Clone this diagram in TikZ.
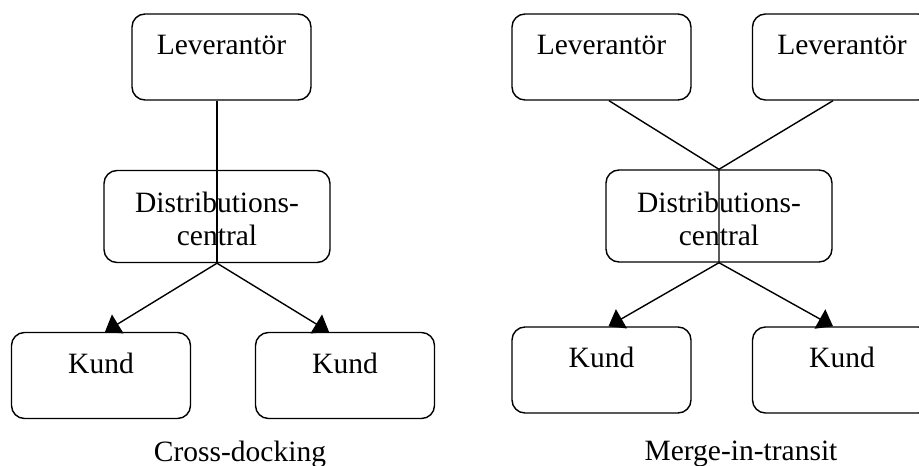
\documentclass[tikz,border=0pt]{standalone}
\usepackage{fontspec}
\setmainfont{Liberation Serif}
\usetikzlibrary{arrows.meta}

\tikzset{
  box/.style={draw, line width=1.4pt, rounded corners=13pt, inner sep=0pt,
              minimum width=179pt, minimum height=86pt},
  wide/.style={box, minimum width=226pt, minimum height=92pt},
  lbl/.style={anchor=base, inner sep=0pt, font=\fontsize{29.5}{33}\selectfont},
  link/.style={line width=1.4pt},
  flow/.style={link, -{Triangle[length=15pt,width=22pt]}}
}

\begin{document}
\begin{tikzpicture}[x=1pt,y=-1pt]
\useasboundingbox (0,0) rectangle (919,466);

% ---- Cross-docking ----
\node[box]  (lev) at (221.5,57) {};
\node[wide] (dc)  at (217,216.5) {};
\node[box]  (k1)  at (101,375.5) {};
\node[box]  (k2)  at (345,375.5) {};

\node[lbl] at ([yshift=-41.5pt]lev.north) {Leverantör};
\node[lbl] at ([yshift=-43pt]dc.north) {Distributions-};
\node[lbl] at ([yshift=-76pt]dc.north) {central};
\node[lbl] at ([yshift=-42pt]k1.north) {Kund};
\node[lbl] at ([yshift=-42pt]k2.north) {Kund};
\node[lbl] (cap1) at (240,461) {Cross-docking};

\coordinate (top) at (lev.south -| dc.south);
\draw[link] (top) -- (dc.south);
\draw[flow] (dc.south) -- ([xshift=4pt]k1.north);
\draw[flow] (dc.south) -- ([xshift=-16pt]k2.north);

% ---- Merge-in-transit ----
\node[box]  (ml1) at (601.5,57) {};
\node[box]  (ml2) at (842,57) {};
\node[wide] (mdc) at (719,216) {};
\node[box]  (mk1) at (601.5,370) {};
\node[box]  (mk2) at (842,370) {};

\node[lbl] at ([yshift=-41.5pt]ml1.north) {Leverantör};
\node[lbl] at ([yshift=-41.5pt]ml2.north) {Leverantör};
\node[lbl] at ([yshift=-43pt]mdc.north) {Distributions-};
\node[lbl] at ([yshift=-76pt]mdc.north) {central};
\node[lbl] at ([yshift=-41.5pt]mk1.north) {Kund};
\node[lbl] at ([yshift=-41.5pt]mk2.north) {Kund};
\node[lbl] (cap2) at (741,460) {Merge-in-transit};

\draw[link] ([xshift=7.5pt]ml1.south) -- (mdc.north) -- (mdc.south);
\draw[link] ([xshift=-9pt]ml2.south) -- (mdc.north);
\draw[flow] (mdc.south) -- ([xshift=7pt]mk1.north);
\draw[flow] (mdc.south) -- ([xshift=-9pt]mk2.north);
\end{tikzpicture}
\end{document}
